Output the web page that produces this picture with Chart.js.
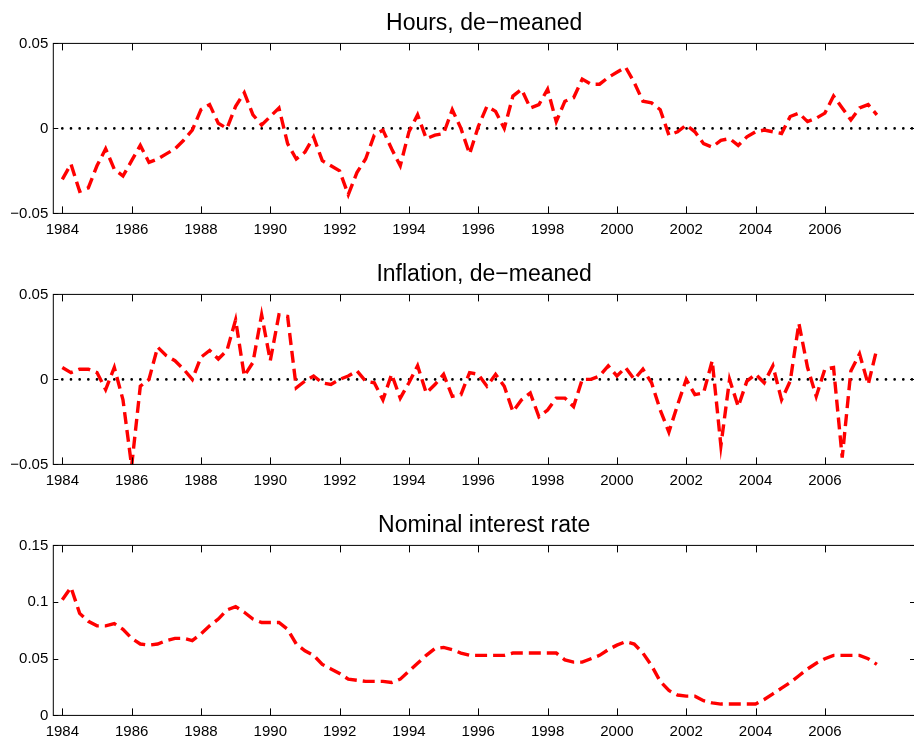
<!DOCTYPE html>
<html lang="en">
<head>
    <meta charset="UTF-8">
    <title>Hours, inflation and nominal interest rate</title>
    <script src="https://cdn.jsdelivr.net/npm/chart.js"></script>
    <style>
        html, body { margin: 0; padding: 0; background: #fff; overflow: hidden; width: 914px; height: 738px; }
        .panel { position: absolute; left: 0; width: 920px; height: 251px; }
    </style>
</head>
<body>
    <div class="panel" style="top:0px"><canvas id="hoursChart" width="920" height="251"></canvas></div>
    <div class="panel" style="top:251px"><canvas id="inflChart" width="920" height="251"></canvas></div>
    <div class="panel" style="top:502px"><canvas id="rateChart" width="920" height="251"></canvas></div>

    <script>
        // quarterly sample, 1984Q1 .. 2007Q3 (time axis, decimal years)
        const quarters = [];
        for (let i = 0; i < 95; i++) quarters.push(1984 + i / 4);

        const yearTicks = [1984, 1986, 1988, 1990, 1992, 1994, 1996, 1998, 2000, 2002, 2004, 2006];
        const gapTicks = [-0.05, 0, 0.05];
        const rateTicks = [0, 0.05, 0.1, 0.15];

        const hours = [
            -0.030, -0.021, -0.037, -0.035,  -0.022, -0.012, -0.024, -0.028,
            -0.019, -0.010, -0.020, -0.018,  -0.015, -0.012, -0.007, -0.001,
             0.011,  0.014,  0.003,  0.000,   0.013,  0.021,  0.008,  0.002,
             0.007,  0.012, -0.009, -0.018,  -0.014, -0.005, -0.019, -0.022,
            -0.025, -0.039, -0.026, -0.018,  -0.004, -0.001, -0.012, -0.022,
            -0.002,  0.008, -0.006, -0.004,  -0.003,  0.011,  0.000, -0.015,
             0.001,  0.013,  0.010,  0.000,   0.019,  0.023,  0.012,  0.014,
             0.023,  0.004,  0.016,  0.018,   0.029,  0.026,  0.026,  0.030,
             0.033,  0.036,  0.027,  0.016,   0.015,  0.011, -0.004, -0.002,
             0.002, -0.002, -0.009, -0.011,  -0.007, -0.006, -0.010, -0.005,
            -0.002, -0.001, -0.002, -0.003,   0.007,  0.009,  0.004,  0.006,
             0.009,  0.019,  0.012,  0.005,   0.012,  0.014,  0.008
        ];

        const inflation = [
             0.007,  0.004,  0.006,  0.006,   0.004, -0.006,  0.007, -0.012,
            -0.051, -0.004,  0.000,  0.019,   0.014,  0.011,  0.006,  0.000,
             0.013,  0.017,  0.012,  0.017,   0.035,  0.002,  0.010,  0.038,
             0.011,  0.038,  0.037, -0.005,  -0.001,  0.002, -0.002, -0.003,
             0.000,  0.002,  0.005, -0.001,  -0.002, -0.012,  0.003, -0.011,
            -0.002,  0.008, -0.008, -0.003,   0.003, -0.010, -0.009,  0.004,
             0.003, -0.004,  0.003, -0.004,  -0.019, -0.012, -0.008, -0.022,
            -0.018, -0.011, -0.011, -0.016,   0.000,  0.000,  0.002,  0.008,
             0.002,  0.007,  0.000,  0.006,  -0.002, -0.018, -0.031, -0.015,
             0.000, -0.009, -0.008,  0.011,  -0.039,  0.000, -0.016, -0.001,
             0.003, -0.002,  0.008, -0.012,  -0.001,  0.033,  0.007, -0.010,
             0.006,  0.007, -0.046,  0.005,   0.015, -0.003,  0.018
        ];

        const interest = [
            0.102, 0.113, 0.090, 0.083,  0.079, 0.079, 0.081, 0.076,
            0.068, 0.063, 0.062, 0.063,  0.066, 0.068, 0.068, 0.066,
            0.072, 0.079, 0.085, 0.093,  0.096, 0.091, 0.085, 0.082,
            0.082, 0.082, 0.076, 0.063,  0.057, 0.053, 0.045, 0.041,
            0.037, 0.032, 0.031, 0.030,  0.030, 0.030, 0.029, 0.032,
            0.039, 0.046, 0.053, 0.059,  0.060, 0.058, 0.055, 0.053,
            0.053, 0.053, 0.053, 0.053,  0.055, 0.055, 0.055, 0.055,
            0.055, 0.055, 0.049, 0.047,  0.047, 0.050, 0.053, 0.058,
            0.062, 0.065, 0.063, 0.055,  0.044, 0.030, 0.022, 0.018,
            0.017, 0.017, 0.013, 0.011,  0.010, 0.010, 0.010, 0.010,
            0.010, 0.014, 0.019, 0.024,  0.029, 0.035, 0.041, 0.046,
            0.050, 0.053, 0.053, 0.053,  0.053, 0.050, 0.045
        ];

        const FONT = "'Liberation Sans', Arial, Helvetica, sans-serif";
        const X_MIN = 1983.74, X_MAX = 2008.6;

        const fmt = v => (v < 0 ? '\u2212' : '') + String(Math.abs(v));

        // box around the axes with inward ticks on all four sides (matlab style)
        const frame = {
            id: 'frame',
            afterDraw(chart) {
                const { ctx, chartArea: a, scales: { x, y } } = chart;
                ctx.save();
                ctx.strokeStyle = '#000';
                ctx.lineWidth = 1;
                ctx.strokeRect(a.left, a.top, a.right - a.left, a.bottom - a.top);
                ctx.beginPath();
                x.ticks.forEach(t => {
                    const px = Math.round(x.getPixelForValue(t.value)) + 0.5;
                    ctx.moveTo(px, a.bottom); ctx.lineTo(px, a.bottom - 7);
                    ctx.moveTo(px, a.top); ctx.lineTo(px, a.top + 7);
                });
                y.ticks.forEach(t => {
                    const py = Math.round(y.getPixelForValue(t.value)) + 0.5;
                    ctx.moveTo(a.left, py); ctx.lineTo(a.left + 5, py);
                    ctx.moveTo(a.right, py); ctx.lineTo(a.right - 5, py);
                });
                ctx.stroke();
                ctx.restore();
            }
        };

        function makePanel(id, title, values, yTicks, yMin, yMax, withZero) {
            const datasets = [{
                data: quarters.map((q, i) => ({ x: q, y: values[i] })),
                borderColor: '#ff0000',
                borderWidth: 3.4,
                borderDash: [12, 6],
                pointRadius: 0,
                tension: 0,
                clip: 0
            }];
            if (withZero) {
                datasets.push({
                    data: [{ x: quarters[0], y: 0 }, { x: X_MAX, y: 0 }],
                    borderColor: '#000',
                    borderWidth: 2.7,
                    borderDash: [0, 8.67],
                    borderCapStyle: 'round',
                    pointRadius: 0,
                    clip: 0
                });
            }
            new Chart(document.getElementById(id), {
                type: 'line',
                data: { datasets },
                plugins: [frame],
                options: {
                    responsive: false,
                    animation: false,
                    layout: { padding: { left: 0, right: 5, top: 0, bottom: 0 } },
                    plugins: {
                        legend: { display: false },
                        tooltip: { enabled: false },
                        title: {
                            display: true,
                            fullSize: false,
                            text: title,
                            color: '#000',
                            font: { family: FONT, size: 23, weight: 'normal' },
                            padding: { top: 9.5, bottom: 6.3 }
                        }
                    },
                    scales: {
                        x: {
                            type: 'linear',
                            min: X_MIN,
                            max: X_MAX,
                            grid: { display: false, drawTicks: false },
                            border: { display: false },
                            afterBuildTicks: s => { s.ticks = yearTicks.map(v => ({ value: v })); },
                            afterFit: s => { s.height = 37.6; },
                            ticks: {
                                color: '#000',
                                font: { family: FONT, size: 15 },
                                padding: 7,
                                maxRotation: 0,
                                autoSkip: false,
                                callback: v => String(v)
                            }
                        },
                        y: {
                            min: yMin,
                            max: yMax,
                            grid: { display: false, drawTicks: false },
                            border: { display: false },
                            afterBuildTicks: s => { s.ticks = yTicks.map(v => ({ value: v })); },
                            afterFit: s => { s.width = 53.3; },
                            ticks: {
                                color: '#000',
                                font: { family: FONT, size: 15 },
                                padding: 5,
                                autoSkip: false,
                                callback: v => fmt(v)
                            }
                        }
                    }
                }
            });
        }

        makePanel('hoursChart', 'Hours, de\u2212meaned', hours, gapTicks, -0.05, 0.05, true);
        makePanel('inflChart', 'Inflation, de\u2212meaned', inflation, gapTicks, -0.05, 0.05, true);
        makePanel('rateChart', 'Nominal interest rate', interest, rateTicks, 0, 0.15, false);
    </script>
</body>
</html>
